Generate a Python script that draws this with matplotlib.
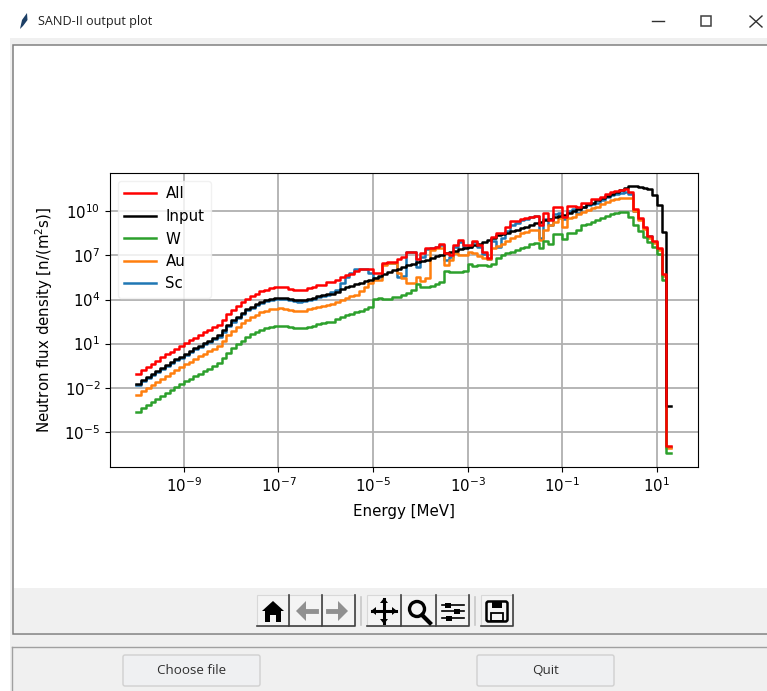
#!/usr/bin/env python3
"""
SAND-II output plot window: neutron flux density spectra per group.
"""

import matplotlib
matplotlib.use("Agg")

import matplotlib.patches as patches
import matplotlib.pyplot as plt
import numpy as np

WIDTH = 767
HEIGHT = 691

# lower edge of each energy group, log10(MeV)
LOG_ENERGY = [
    -10.0, -9.9, -9.8, -9.7, -9.6, -9.5, -9.4, -9.3, -9.2, -9.1,
    -9.0, -8.9, -8.8, -8.7, -8.6, -8.5, -8.4, -8.3, -8.2, -8.1,
    -8.0, -7.9, -7.8, -7.7, -7.6, -7.5, -7.4, -7.3, -7.2, -7.1,
    -7.0, -6.9, -6.8, -6.7, -6.6, -6.5, -6.4, -6.3, -6.2, -6.1,
    -6.0, -5.9, -5.8, -5.7, -5.6, -5.5, -5.4, -5.3, -5.2, -5.1,
    -5.0, -4.9, -4.8, -4.7, -4.6, -4.5, -4.4, -4.3, -4.2, -4.1,
    -4.0, -3.9, -3.8, -3.7, -3.6, -3.5, -3.4, -3.3, -3.2, -3.1,
    -3.0, -2.9, -2.8, -2.7, -2.6, -2.5, -2.4, -2.3, -2.2, -2.1,
    -2.0, -1.9, -1.8, -1.7, -1.6, -1.5, -1.4, -1.3, -1.2, -1.1,
    -1.0, -0.9, -0.8, -0.7, -0.6, -0.5, -0.4, -0.3, -0.2, -0.1,
    0.0, 0.1, 0.2, 0.3, 0.4, 0.5, 0.6, 0.7, 0.8, 0.9,
    1.0, 1.1, 1.2, 1.3,
]

# log10 of flux density in each group
LOG_ALL = [
    -1.04, -0.78, -0.56, -0.36, -0.16, 0.06, 0.26, 0.46, 0.66, 0.84,
    1.04, 1.22, 1.40, 1.58, 1.76, 1.92, 2.10, 2.28, 2.62, 3.00,
    3.30, 3.56, 3.82, 4.06, 4.24, 4.40, 4.56, 4.68, 4.76, 4.82,
    4.84, 4.82, 4.74, 4.68, 4.66, 4.68, 4.76, 4.84, 4.96, 5.02,
    5.16, 5.22, 5.30, 5.50, 5.66, 5.74, 5.95, 6.07, 6.07, 6.10,
    5.78, 5.78, 6.46, 6.57, 6.57, 6.73, 6.91, 7.25, 7.25, 6.73,
    7.14, 7.48, 7.52, 7.60, 7.75, 7.14, 7.05, 7.70, 8.05, 7.70,
    7.70, 7.98, 7.70, 7.20, 6.80, 8.27, 8.50, 8.50, 8.95, 9.34,
    9.34, 9.45, 9.57, 9.62, 9.70, 9.07, 9.86, 9.41, 10.32, 10.32,
    9.64, 10.39, 10.39, 10.32, 10.60, 10.60, 10.82, 10.82, 11.00, 11.20,
    11.30, 11.40, 11.45, 11.50, 11.29, 10.16, 9.52, 8.91, 8.34, 7.98,
    7.52, 5.73, -5.99,
]

LOG_INPUT = [
    -1.76, -1.50, -1.28, -1.08, -0.88, -0.66, -0.46, -0.26, -0.06, 0.12,
    0.32, 0.50, 0.68, 0.86, 1.04, 1.20, 1.38, 1.56, 1.90, 2.28,
    2.58, 2.84, 3.10, 3.34, 3.52, 3.68, 3.84, 3.96, 4.04, 4.10,
    4.12, 4.10, 4.02, 3.96, 3.94, 3.96, 4.04, 4.12, 4.24, 4.30,
    4.36, 4.40, 4.54, 4.70, 4.82, 4.94, 5.04, 5.14, 5.24, 5.36,
    5.48, 5.62, 5.74, 5.86, 5.98, 6.10, 6.22, 6.34, 6.44, 6.52,
    6.62, 6.72, 6.84, 6.94, 7.04, 7.14, 7.22, 7.32, 7.42, 7.52,
    7.60, 7.70, 7.80, 7.92, 8.06, 8.22, 8.36, 8.46, 8.56, 8.64,
    8.72, 8.84, 8.94, 9.06, 9.18, 9.30, 9.40, 9.50, 9.60, 9.68,
    9.76, 9.90, 10.04, 10.18, 10.32, 10.48, 10.60, 10.76, 10.90, 11.06,
    11.20, 11.34, 11.48, 11.60, 11.70, 11.74, 11.68, 11.60, 11.50, 11.10,
    10.43, 8.59, -3.26,
]

LOG_W = [
    -3.66, -3.40, -3.18, -2.98, -2.78, -2.56, -2.36, -2.16, -1.96, -1.78,
    -1.58, -1.40, -1.22, -1.04, -0.86, -0.70, -0.52, -0.34, 0.00, 0.38,
    0.68, 0.94, 1.20, 1.44, 1.62, 1.78, 1.94, 2.06, 2.14, 2.20,
    2.22, 2.20, 2.12, 2.06, 2.04, 2.06, 2.14, 2.22, 2.34, 2.40,
    2.46, 2.50, 2.64, 2.80, 2.92, 3.04, 3.14, 3.24, 3.34, 3.46,
    4.03, 4.12, 4.03, 4.03, 4.18, 4.20, 4.30, 4.41, 4.64, 5.05,
    4.87, 4.87, 4.94, 5.08, 5.20, 5.94, 5.84, 5.89, 5.89, 5.95,
    6.39, 6.30, 6.36, 6.34, 6.30, 6.41, 6.80, 7.03, 7.14, 7.25,
    7.37, 7.50, 7.60, 7.75, 7.82, 7.52, 7.98, 7.80, 8.43, 8.43,
    8.12, 8.50, 8.50, 8.73, 9.07, 9.15, 9.30, 9.40, 9.52, 9.68,
    9.80, 9.90, 9.98, 9.98, 9.64, 9.07, 8.66, 8.25, 7.89, 7.60,
    7.07, 5.30, -6.46,
]

LOG_AU = [
    -2.48, -2.22, -2.00, -1.80, -1.60, -1.38, -1.18, -0.98, -0.78, -0.60,
    -0.40, -0.22, -0.04, 0.14, 0.32, 0.48, 0.66, 0.84, 1.18, 1.56,
    1.86, 2.12, 2.38, 2.62, 2.80, 2.96, 3.12, 3.24, 3.32, 3.38,
    3.40, 3.38, 3.30, 3.24, 3.22, 3.24, 3.32, 3.40, 3.52, 3.58,
    3.64, 3.68, 3.82, 3.98, 4.10, 4.22, 4.32, 4.60, 4.85, 5.15,
    5.32, 5.32, 6.34, 6.46, 6.46, 5.80, 5.45, 5.10, 5.10, 5.55,
    5.25, 5.44, 7.37, 7.52, 7.52, 6.34, 6.68, 7.14, 7.03, 7.03,
    7.20, 7.14, 6.98, 6.80, 6.73, 7.48, 7.64, 7.77, 7.98, 8.20,
    8.34, 8.50, 8.60, 8.73, 8.73, 8.05, 8.73, 9.07, 9.25, 9.57,
    8.96, 9.57, 9.64, 9.80, 9.98, 10.09, 10.25, 10.32, 10.48, 10.66,
    10.77, 10.84, 10.89, 10.89, 10.89, 10.00, 9.40, 8.80, 8.20, 7.85,
    7.40, 5.60, -6.10,
]

LOG_SC = [
    -1.84, -1.58, -1.36, -1.16, -0.96, -0.74, -0.54, -0.34, -0.14, 0.04,
    0.24, 0.42, 0.60, 0.78, 0.96, 1.12, 1.30, 1.48, 1.82, 2.20,
    2.50, 2.76, 3.02, 3.26, 3.44, 3.60, 3.76, 3.88, 3.96, 4.02,
    4.04, 4.02, 3.94, 3.88, 3.86, 3.88, 3.96, 4.04, 4.16, 4.22,
    4.30, 4.50, 4.65, 5.10, 5.55, 5.78, 6.07, 6.07, 6.07, 5.78,
    5.45, 5.55, 6.40, 6.50, 6.50, 5.55, 5.60, 7.20, 7.20, 6.23,
    6.90, 7.45, 7.50, 7.55, 7.70, 6.68, 6.90, 7.60, 7.90, 7.60,
    7.60, 7.90, 7.60, 7.10, 6.75, 8.00, 7.60, 8.20, 8.65, 9.10,
    9.20, 9.40, 9.50, 9.60, 9.65, 8.16, 9.50, 9.07, 9.80, 9.90,
    9.45, 10.00, 10.15, 9.86, 10.30, 10.40, 10.50, 10.60, 10.75, 10.95,
    11.10, 11.20, 11.25, 11.30, 11.20, 10.05, 9.45, 8.85, 8.30, 7.90,
    7.45, 5.65, -6.05,
]

# drawn back to front, legend shows them the other way round
SERIES = [
    ("Sc", LOG_SC, "#1f77b4"),
    ("Au", LOG_AU, "#ff7f0e"),
    ("W", LOG_W, "#2ca02c"),
    ("Input", LOG_INPUT, "black"),
    ("All", LOG_ALL, "red"),
]

X_TICKS = [1e-9, 1e-7, 1e-5, 1e-3, 1e-1, 1e1]
Y_TICKS = [1e-5, 1e-2, 1e1, 1e4, 1e7, 1e10]

UI_GREY = "#f0f0f0"
EDGE_GREY = "#a0a0a0"
UI_FONT = "Open Sans"
FONT_SIZE = 10.8


def draw_button(chrome, x0, x1, label):
    chrome.add_patch(
        patches.FancyBboxPatch(
            (x0 + 1, 656),
            x1 - x0 - 2,
            29,
            boxstyle="round,pad=1,rounding_size=2",
            facecolor="#eff0f2",
            edgecolor="#d0d0d0",
            linewidth=1,
        )
    )
    chrome.text(
        (x0 + x1) / 2, 671, label,
        ha="center", va="center", fontsize=9.6, color="#303030", family=UI_FONT,
    )


def draw_toolbar(chrome):
    boxes = [(257, 289), (289, 322), (322, 355), (367, 401), (401, 436), (436, 469), (481, 513)]
    for x0, x1 in boxes:
        chrome.add_patch(
            patches.Rectangle((x0, 595), x1 - x0, 31, facecolor="#f4f4f4", edgecolor="#d8d8d8", linewidth=0.8)
        )
        chrome.plot([x0, x1, x1], [626, 626, 595], color="#404040", linewidth=1.2)
    for x in [361, 475]:
        chrome.plot([x, x], [597, 625], color="#c8c8c8", linewidth=1.2)

    # home
    chrome.add_patch(patches.Polygon(
        [(262, 611), (273, 601), (284, 611), (281, 611), (281, 622), (276, 622), (276, 615),
         (270, 615), (270, 622), (265, 622), (265, 611)],
        facecolor="black",
    ))

    # back / forward, greyed out
    for tip, tail, head in [(296, 316, 306), (348, 328, 338)]:
        chrome.plot([tail, head], [611, 611], color="#909090", linewidth=3.5)
        chrome.add_patch(patches.Polygon([(tip, 611), (head, 601), (head, 621)], facecolor="#909090"))

    # pan
    chrome.plot([372, 396], [611, 611], color="black", linewidth=2.2)
    chrome.plot([384, 384], [599, 623], color="black", linewidth=2.2)
    for pts in [
        [(371, 611), (376, 607), (376, 615)],
        [(397, 611), (392, 607), (392, 615)],
        [(384, 598), (380, 603), (388, 603)],
        [(384, 624), (380, 619), (388, 619)],
    ]:
        chrome.add_patch(patches.Polygon(pts, facecolor="black"))

    # zoom
    chrome.add_patch(patches.Circle((417, 609), 7.5, facecolor="none", edgecolor="black", linewidth=2.4))
    chrome.plot([422, 430], [615, 623], color="black", linewidth=3)

    # configure
    for y, x in [(605, 448), (611, 457), (618, 449)]:
        chrome.plot([442, 464], [y, y], color="black", linewidth=1.2)
        chrome.add_patch(patches.Rectangle((x - 3, y - 2.5), 6, 5, facecolor="black"))

    # save
    chrome.add_patch(patches.FancyBboxPatch(
        (487, 602), 20, 19, boxstyle="round,pad=0.5,rounding_size=2",
        facecolor="none", edgecolor="black", linewidth=1.8,
    ))
    chrome.add_patch(patches.Rectangle((492, 601), 10, 7, facecolor="black"))
    chrome.add_patch(patches.Rectangle((491, 613), 12, 8, facecolor="none", edgecolor="black", linewidth=1.3))


def draw_chrome(fig):
    """Window around the plot, in pixel coordinates."""

    chrome = fig.add_axes([0, 0, 1, 1], zorder=0)
    chrome.set_xlim(0, WIDTH)
    chrome.set_ylim(HEIGHT, 0)
    chrome.axis("off")

    # title bar
    chrome.add_patch(patches.Rectangle((10, 38), WIDTH, HEIGHT - 38, facecolor=UI_GREY))
    chrome.add_patch(patches.Polygon(
        [(20, 29), (22, 20), (27, 13), (27.5, 20), (23, 26)], facecolor="#1c3f66"
    ))
    chrome.text(38, 21.5, "SAND-II output plot", ha="left", va="center", fontsize=9.1, color="#202020", family=UI_FONT)
    chrome.plot([652, 664], [21, 21], color="#303030", linewidth=1)
    chrome.add_patch(patches.Rectangle((701, 16), 10, 10, facecolor="none", edgecolor="#404040", linewidth=1.1))
    chrome.plot([750, 762], [16, 27], color="#303030", linewidth=1)
    chrome.plot([750, 762], [27, 16], color="#303030", linewidth=1)

    # canvas frame and toolbar strip
    chrome.add_patch(patches.Rectangle((12.5, 45), WIDTH, 589, facecolor="white", edgecolor="#808080", linewidth=1.1))
    chrome.add_patch(patches.Rectangle((13.5, 588), WIDTH, 45, facecolor=UI_GREY))
    chrome.plot([12, WIDTH], [647, 647], color=EDGE_GREY, linewidth=1)
    chrome.plot([12, 12], [647, HEIGHT], color=EDGE_GREY, linewidth=1)

    draw_toolbar(chrome)
    draw_button(chrome, 123, 260, "Choose file")
    draw_button(chrome, 477, 614, "Quit")


def main():

    energy = 10.0 ** np.array(LOG_ENERGY)

    fig = plt.figure(figsize=(WIDTH / 100, HEIGHT / 100), dpi=100, facecolor="white")
    draw_chrome(fig)

    ax = fig.add_axes(
        [110 / WIDTH, (HEIGHT - 467) / HEIGHT, 588 / WIDTH, 294 / HEIGHT],
        zorder=1,
    )

    for label, log_flux, colour in SERIES:
        flux = 10.0 ** np.array(log_flux + log_flux[-1:])
        ax.step(energy, flux, where="post", color=colour, linewidth=1.8, label=label)

    ax.set_xscale("log")
    ax.set_yscale("log")
    ax.set_xlim(10.0 ** -10.56, 10.0 ** 1.87)
    ax.set_ylim(10.0 ** -7.4, 10.0 ** 12.61)
    ax.set_xticks(X_TICKS)
    ax.set_yticks(Y_TICKS)
    ax.minorticks_off()
    ax.tick_params(labelsize=FONT_SIZE)
    ax.grid(True, color="#b0b0b0", linewidth=1.3)
    ax.set_axisbelow(True)
    ax.set_xlabel("Energy [MeV]", fontsize=FONT_SIZE, labelpad=6)
    ax.set_ylabel("Neutron flux density [n/(m$^2$s)]", fontsize=FONT_SIZE, labelpad=7)

    handles, labels = ax.get_legend_handles_labels()
    ax.legend(
        handles[::-1],
        labels[::-1],
        loc="upper left",
        fontsize=FONT_SIZE,
        handlelength=2.15,
        labelspacing=0.5,
        handletextpad=0.65,
        edgecolor="#eeeeee",
    )

    fig.savefig("out.png", dpi=100)
    plt.close(fig)


if __name__ == "__main__":
    main()
